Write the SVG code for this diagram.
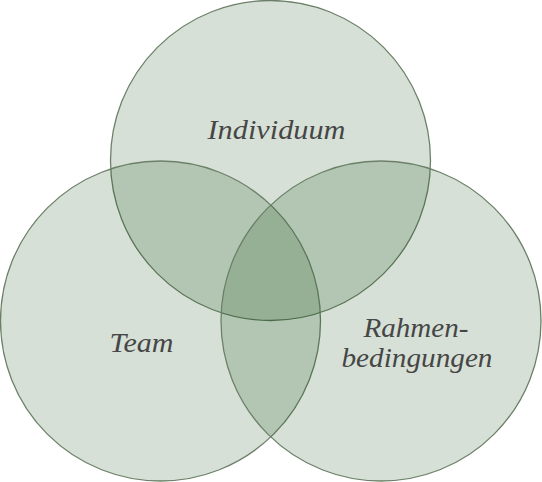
<svg xmlns="http://www.w3.org/2000/svg" width="542" height="482" viewBox="0 0 542 482">
<style>
.c{fill:rgb(0,60,0);fill-opacity:0.16;stroke:#6c8068;stroke-width:1.3}
.t{font-family:"Liberation Serif","DejaVu Serif",serif;font-style:italic;font-size:27px;fill:#464646;text-anchor:middle}
</style>
<rect width="542" height="482" fill="#ffffff"/>
<g id="individuum">
<circle class="c" cx="270.5" cy="160.5" r="160"/>
<text class="t" x="276.5" y="139" textLength="138" lengthAdjust="spacingAndGlyphs">Individuum</text>
</g>
<g id="team">
<circle class="c" cx="160.5" cy="321" r="160"/>
<text class="t" x="141.5" y="352" textLength="64" lengthAdjust="spacingAndGlyphs">Team</text>
</g>
<g id="rahmenbedingungen">
<circle class="c" cx="381" cy="321" r="160"/>
<text class="t" x="416" y="337" textLength="105" lengthAdjust="spacingAndGlyphs">Rahmen-</text>
<text class="t" x="417" y="367" textLength="151" lengthAdjust="spacingAndGlyphs">bedingungen</text>
</g>
<g id="connectors"/>
</svg>
